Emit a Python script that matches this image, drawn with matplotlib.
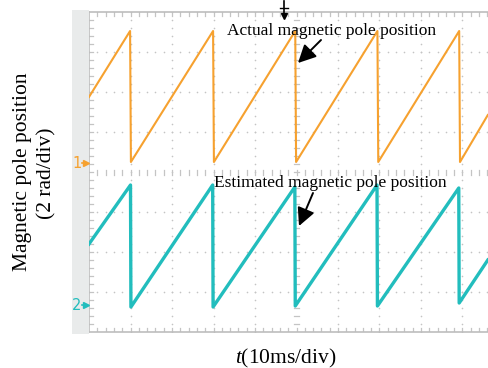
import numpy as np
import matplotlib
matplotlib.use("Agg")
import matplotlib.pyplot as plt
from matplotlib.patches import Rectangle, FancyArrowPatch

plt.rcParams["font.family"] = ["Liberation Serif", "DejaVu Serif"]
plt.rcParams["mathtext.fontset"] = "custom"
plt.rcParams["mathtext.rm"] = "Liberation Serif"
plt.rcParams["mathtext.it"] = "Liberation Serif:italic"

# ---- data: time in ms (10 ms/div), position in rad (2 rad/div) ----
actual_t = [0.0, 9.9, 10.1, 29.9, 30.1, 49.7, 49.9, 69.5, 69.7, 89.2, 89.4, 96.1]
actual_pos = [3.75, 7.05, 0.5, 7.05, 0.5, 7.05, 0.5, 7.05, 0.5, 7.05, 0.5, 2.85]

estimated_t = [0.0, 10.0, 10.1, 29.8, 29.9, 49.6, 49.7, 69.4, 69.5, 89.1, 89.2, 96.1]
estimated_pos = [-3.6, -0.65, -6.75, -0.65, -6.75, -0.75, -6.7, -0.65, -6.7, -0.8, -6.55, -4.4]

ch1_level = 0.45
ch2_level = -6.65

ORANGE = "#f6a12f"
TEAL = "#22bdbd"
GRID = "#c4c4c4"

W, H = 488, 368
fig = plt.figure(figsize=(W / 100, H / 100), dpi=100)
fig.patch.set_facecolor("white")


def fx(px):
    return px / W


def fy(py):
    return 1 - py / H


# grey channel-marker strip on the left
fig.patches.append(Rectangle((fx(72), fy(334)), fx(89) - fx(72), fy(10) - fy(334),
                             transform=fig.transFigure, facecolor="#e9ebeb",
                             edgecolor="none", zorder=0))

x_left, x_right = 89, 488
y_top, y_bot = 12, 332
div_px = 41.5
xmax = (x_right - x_left) / div_px * 10
ax = fig.add_axes([fx(x_left), fy(y_bot), fx(x_right) - fx(x_left), fy(y_top) - fy(y_bot)])
ax.set_xlim(0, xmax)
ax.set_ylim(-8, 8)
ax.set_xticks([])
ax.set_yticks([])
for side in ["top", "left", "bottom"]:
    ax.spines[side].set_color("#bdbdbd")
    ax.spines[side].set_linewidth(1.2)
ax.spines["right"].set_visible(False)

# graticule dots every 1/5 division
for gx in np.arange(10, xmax, 10):
    if abs(gx - 50) < 1e-6:
        continue
    ys = np.arange(-8, 8.01, 0.4)
    ax.scatter(np.full_like(ys, gx), ys, s=1.4, color=GRID, linewidths=0, zorder=1)
for gy in [-6, -4, -2, 2, 4, 6]:
    xs = np.arange(0, xmax, 2)
    ax.scatter(xs, np.full_like(xs, gy), s=1.4, color=GRID, linewidths=0, zorder=1)

# minor tick marks on borders and centre cross
tick_kw = dict(color=GRID, lw=0.9, zorder=1)
px_x = 10 / div_px
px_y = 16 / 320
for tx in np.arange(2, xmax, 2):
    ax.plot([tx, tx], [8, 8 - 4 * px_y], **tick_kw)
    ax.plot([tx, tx], [-8, -8 + 4 * px_y], **tick_kw)
    ax.plot([tx, tx], [-2.5 * px_y, 2.5 * px_y], **tick_kw)
for ty in np.arange(-7.6, 8, 0.4):
    ax.plot([0, 4 * px_x], [ty, ty], **tick_kw)
    ax.plot([50 - 2.5 * px_x, 50 + 2.5 * px_x], [ty, ty], **tick_kw)

# waveforms
ax.plot(actual_t, actual_pos, color=ORANGE, lw=1.5, zorder=3)
ax.plot(estimated_t, estimated_pos, color=TEAL, lw=2.4, zorder=3)

# channel reference markers
for level, label, col in [(ch1_level, "1", ORANGE), (ch2_level, "2", TEAL)]:
    py = 172 - level * 20
    fig.text(fx(77), fy(py), label, color=col, fontsize=10.5, family="DejaVu Sans",
             ha="center", va="center")
    fig.lines.append(plt.Line2D([fx(82), fx(86)], [fy(py), fy(py)],
                                transform=fig.transFigure, color=col, lw=1.2))
    fig.lines.append(plt.Line2D([fx(86)], [fy(py)], transform=fig.transFigure,
                                color=col, marker=">", markersize=4.5, lw=0))

# trigger position marker
fig.lines.append(plt.Line2D([fx(284), fx(284)], [fy(1), fy(16)], transform=fig.transFigure,
                            color="black", lw=1.2))
fig.lines.append(plt.Line2D([fx(280), fx(288)], [fy(8), fy(8)], transform=fig.transFigure,
                            color="black", lw=1.0))
fig.lines.append(plt.Line2D([fx(284)], [fy(16)], transform=fig.transFigure,
                            color="black", marker="v", markersize=5, lw=0))

# annotations
fig.text(fx(227), fy(35), "Actual magnetic pole position", fontsize=12.5,
         ha="left", va="baseline")
fig.text(fx(214), fy(187), "Estimated magnetic pole position", fontsize=12.5,
         ha="left", va="baseline")
arrow_kw = dict(arrowstyle="-|>,head_length=0.9,head_width=0.45", color="black",
                lw=1.4, mutation_scale=12, shrinkA=0, shrinkB=0)
fig.add_artist(FancyArrowPatch((fx(321), fy(40)), (fx(298), fy(63)),
                               transform=fig.transFigure, **arrow_kw))
fig.add_artist(FancyArrowPatch((fx(313), fy(193)), (fx(299), fy(226)),
                               transform=fig.transFigure, **arrow_kw))

# axis labels
fig.text(fx(23), fy(172), "Magnetic pole position", fontsize=15.5, rotation=90,
         ha="center", va="center")
fig.text(fx(47), fy(173), "(2 rad/div)", fontsize=15.5, rotation=90,
         ha="center", va="center")
fig.text(fx(286), fy(363), r"$t$(10ms/div)", fontsize=15.5, ha="center", va="baseline")

fig.savefig("out.png", dpi=100, facecolor="white")
